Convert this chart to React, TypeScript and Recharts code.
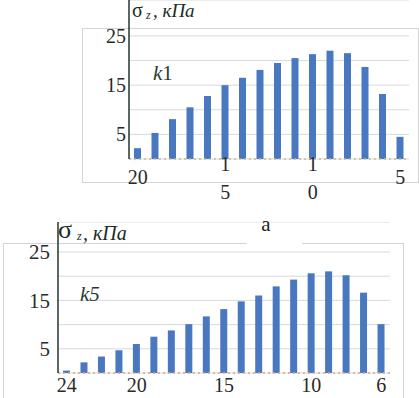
import React from 'react';
import { BarChart, Bar, XAxis, YAxis, CartesianGrid } from 'recharts';

// upper panel (k1): depth categories and stress values, kPa
const topDepths = [20, 19, 18, 17, 16, 15, 14, 13, 12, 11, 10, 9, 8, 7, 6, 5];
const topStress = [2.2, 5.3, 8.1, 10.5, 12.8, 15.0, 16.5, 18.1, 19.5, 20.5, 21.3, 22.0, 21.5, 18.7, 13.2, 4.5];
const topTickLabels = ['20', '', '', '', '', '1\n5', '', '', '', '', '1\n0', '', '', '', '', '5'];

// lower panel (k5)
const bottomDepths = [24, 23, 22, 21, 20, 19, 18, 17, 16, 15, 14, 13, 12, 11, 10, 9, 8, 7, 6];
const bottomStress = [0.5, 2.2, 3.4, 4.7, 6.0, 7.5, 8.8, 10.1, 11.7, 13.2, 14.8, 16.0, 17.9, 19.3, 20.6, 21.0, 20.2, 16.6, 10.1];
const bottomTickLabels = ['24', '', '', '', '20', '', '', '', '', '15', '', '', '', '', '10', '', '', '', '6'];

const yTicks = [5, 10, 15, 20, 25];
const yTickLabels = ['5', '', '15', '', '25'];

const SERIF = "'Liberation Serif', 'DejaVu Serif', serif";
const BAR = '#4a78c0';
const GRID = '#d9d9d9';
const AXIS = '#25352e';
const TEXT = '#2a2a2a';

const makeRows = (depths: number[], values: number[]) =>
  depths.map((d, i) => ({ depth: d, stress: values[i] }));

function XTick(props: any) {
  const { x, y, payload, depths, labels, fontSize, single, firstLine, lineStep } = props;
  const i = depths.indexOf(payload.value);
  const label = labels[i];
  if (!label) return null;
  const lines = label.split('\n');
  if (lines.length === 1) {
    return (
      <text x={x} y={y + single} textAnchor="middle" fontFamily={SERIF} fontSize={fontSize} fill={TEXT} dy="0.35em">
        {label}
      </text>
    );
  }
  return (
    <g>
      {lines.map((t: string, k: number) => (
        <text key={k} x={x} y={y + firstLine + k * lineStep} textAnchor="middle" fontFamily={SERIF} fontSize={fontSize} fill={TEXT} dy="0.35em">
          {t}
        </text>
      ))}
    </g>
  );
}

function YTick(props: any) {
  const { x, y, payload, gap, fontSize } = props;
  const i = yTicks.indexOf(payload.value);
  const label = yTickLabels[i];
  if (!label) return null;
  return (
    <text x={x - gap} y={y} textAnchor="end" fontFamily={SERIF} fontSize={fontSize} fill={TEXT} dy="0.35em">
      {label}
    </text>
  );
}

export default function App() {
  const topData = makeRows(topDepths, topStress);
  const bottomData = makeRows(bottomDepths, bottomStress);

  return (
    <div style={{ position: 'absolute', left: 0, top: 0, width: 419, height: 398, overflow: 'hidden', background: '#fff' }}>
      {/* frames */}
      <div style={{ position: 'absolute', left: 82, top: 28, width: 335, height: 153, border: '1px solid #d4d4d4' }} />
      <div style={{ position: 'absolute', left: 3, top: 243, width: 399, height: 170, borderLeft: '1px solid #d4d4d4', borderRight: '1px solid #d4d4d4' }} />
      <div style={{ position: 'absolute', left: 3, top: 243, width: 244, height: 0, borderTop: '1px solid #d4d4d4' }} />
      <div style={{ position: 'absolute', left: 302, top: 243, width: 101, height: 0, borderTop: '1px solid #d4d4d4' }} />

      <div style={{ position: 'absolute', left: 0, top: 0 }}>
        <BarChart width={419} height={212} data={topData} margin={{ top: 0, right: 10, bottom: 0, left: 0 }} barCategoryGap={0}>
          <CartesianGrid vertical={false} stroke={GRID} />
          <XAxis
            dataKey="depth"
            height={53}
            interval={0}
            tickSize={0}
            tickMargin={0}
            tickLine={false}
            axisLine={{ stroke: '#c4bd8c', strokeDasharray: '2 3', strokeWidth: 1.5 }}
            tick={(p: any) => (
              <XTick {...p} depths={topDepths} labels={topTickLabels} fontSize={20} single={18} firstLine={5} lineStep={28} />
            )}
          />
          <YAxis
            width={129}
            domain={[0, 32.3]}
            ticks={yTicks}
            tickSize={0}
            tickMargin={0}
            tickLine={false}
            axisLine={{ stroke: AXIS, strokeWidth: 1.5 }}
            tick={(p: any) => <YTick {...p} gap={3} fontSize={20} />}
          />
          <Bar dataKey="stress" fill={BAR} barSize={7} isAnimationActive={false} />
        </BarChart>
      </div>

      <div style={{ position: 'absolute', left: 0, top: 222 }}>
        <BarChart width={419} height={176} data={bottomData} margin={{ top: 0, right: 29, bottom: 0, left: 0 }} barCategoryGap={0}>
          <CartesianGrid vertical={false} stroke={GRID} />
          <XAxis
            dataKey="depth"
            height={25}
            interval={0}
            tickSize={0}
            tickMargin={0}
            tickLine={false}
            axisLine={{ stroke: '#d6a88e', strokeDasharray: '2 3', strokeWidth: 1.5 }}
            tick={(p: any) => (
              <XTick {...p} depths={bottomDepths} labels={bottomTickLabels} fontSize={20} single={12} firstLine={5} lineStep={28} />
            )}
          />
          <YAxis
            width={58}
            domain={[0, 31.2]}
            ticks={yTicks}
            tickSize={0}
            tickMargin={0}
            tickLine={false}
            axisLine={{ stroke: AXIS, strokeWidth: 1.5 }}
            tick={(p: any) => <YTick {...p} gap={8} fontSize={21} />}
          />
          <Bar dataKey="stress" fill={BAR} barSize={7} isAnimationActive={false} />
        </BarChart>
      </div>

      {/* titles and panel labels */}
      <svg width={419} height={398} style={{ position: 'absolute', left: 0, top: 0, pointerEvents: 'none' }}>
        <g fontFamily={SERIF} fill="#1c2b26">
          <text x={132} y={17} fontSize={20}>σ</text>
          <text x={146} y={19} fontSize={12} fontStyle="italic">z</text>
          <text x={153} y={17} fontSize={19} fontStyle="italic">, кПа</text>
          <text x={153} y={80} fontSize={21} fill="#1f3d33"><tspan fontStyle="italic">k</tspan>1</text>

          <text x={58} y={238} fontSize={26}>σ</text>
          <text x={77} y={239.5} fontSize={12} fontStyle="italic">z</text>
          <text x={83} y={240} fontSize={20} fontStyle="italic">, кПа</text>
          <text x={80} y={301} fontSize={21} fill="#1f3d33" fontStyle="italic">k5</text>
          <text x={266} y={231} fontSize={21} textAnchor="middle" fill="#222">а</text>
        </g>
      </svg>
    </div>
  );
}
